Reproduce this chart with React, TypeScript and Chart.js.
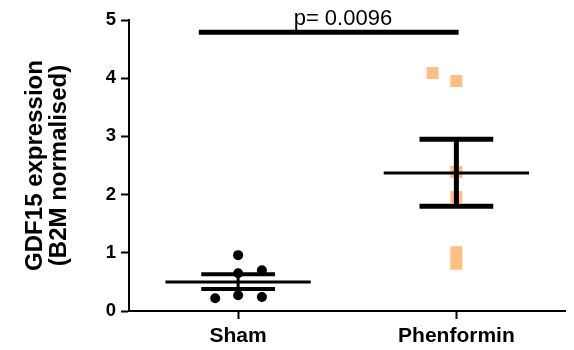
import React, { useEffect, useRef } from 'react';
import { Chart, registerables } from 'chart.js';

Chart.register(...registerables);

// ---- data ----
const categories = ['Sham', 'Phenformin'];
const shamX = [-0.105, 0, 0.109, 0, 0.109, 0];
const shamY = [0.22, 0.27, 0.24, 0.65, 0.7, 0.96];
const phenX = [0.891, 1, 1, 1, 1, 1];
const phenY = [4.09, 3.95, 2.39, 1.96, 1.01, 0.81];
const groupMean = [0.5, 2.37];
const groupSemLow = [0.38, 1.8];
const groupSemHigh = [0.63, 2.95];
const yTicks = [0, 1, 2, 3, 4, 5];
const sigSpan = [-0.18, 1.01];
const sigY = 4.79;
const pLabel = 'p= 0.0096';
const pLabelX = 0.48;

// ---- styles ----
const FONT = '"Liberation Sans", Arial, Helvetica, sans-serif';
const meanHalf = 0.333;
const capHalf = 0.169;
const meanWidth = [3, 3];
const capWidth = [4, 5];
const stemWidth = [3, 5];

function seg(x0: number, y0: number, x1: number, y1: number, w: number) {
  return {
    type: 'scatter' as const,
    data: [
      { x: x0, y: y0 },
      { x: x1, y: y1 },
    ],
    showLine: true,
    borderColor: '#000',
    borderWidth: w,
    borderCapStyle: 'butt' as const,
    pointRadius: 0,
    pointHoverRadius: 0,
    order: 0,
  };
}

const pTextPlugin = {
  id: 'pText',
  afterDatasetsDraw(chart: any) {
    const { ctx, scales } = chart;
    const xs = scales.x;
    const ys = scales.y;
    ctx.save();
    ctx.font = `22px ${FONT}`;
    ctx.fillStyle = '#000';
    ctx.textAlign = 'center';
    ctx.textBaseline = 'alphabetic';
    ctx.fillText(pLabel, xs.getPixelForValue(pLabelX), ys.getPixelForValue(sigY) - 7);
    ctx.restore();
  },
};

export default function App() {
  const ref = useRef<HTMLCanvasElement | null>(null);

  useEffect(() => {
    if (!ref.current) return;
    const datasets: any[] = [];
    for (let g = 0; g < 2; g++) {
      datasets.push(seg(g - meanHalf, groupMean[g], g + meanHalf, groupMean[g], meanWidth[g]));
      datasets.push(seg(g - capHalf, groupSemHigh[g], g + capHalf, groupSemHigh[g], capWidth[g]));
      datasets.push(seg(g - capHalf, groupSemLow[g], g + capHalf, groupSemLow[g], capWidth[g]));
      datasets.push(seg(g, groupSemLow[g], g, groupSemHigh[g], stemWidth[g]));
    }
    datasets.push(seg(sigSpan[0], sigY, sigSpan[1], sigY, 5));
    datasets.push({
      type: 'scatter',
      data: shamX.map((x, i) => ({ x, y: shamY[i] })),
      pointStyle: 'circle',
      pointRadius: 5,
      backgroundColor: '#000',
      borderWidth: 0,
      order: 1,
    });
    datasets.push({
      type: 'scatter',
      data: phenX.map((x, i) => ({ x, y: phenY[i] })),
      pointStyle: 'rect',
      pointRadius: 8.5,
      backgroundColor: '#FFBF80',
      borderWidth: 0,
      order: 2,
    });

    const chart = new Chart(ref.current, {
      type: 'scatter',
      data: { datasets },
      plugins: [pTextPlugin],
      options: {
        animation: false,
        responsive: false,
        devicePixelRatio: 1,
        layout: { padding: { top: 20, right: 6, left: 0, bottom: 0 } },
        plugins: { legend: { display: false }, tooltip: { enabled: false } },
        events: [],
        scales: {
          x: {
            type: 'linear',
            min: -0.5,
            max: 1.5,
            afterBuildTicks: (s: any) => {
              s.ticks = categories.map((_, i) => ({ value: i }));
            },
            afterFit: (s: any) => {
              s.height = 39;
            },
            ticks: {
              callback: (v: any) => categories[Math.round(Number(v))] ?? '',
              color: '#000',
              font: { family: FONT, size: 21, weight: 'bold' },
              padding: 5,
              autoSkip: false,
              maxRotation: 0,
            },
            grid: {
              drawOnChartArea: false,
              drawTicks: true,
              tickLength: 8,
              tickColor: '#000',
              tickWidth: 2,
            },
            border: { display: true, color: '#000', width: 2 },
          },
          y: {
            type: 'linear',
            min: 0,
            max: 5,
            afterBuildTicks: (s: any) => {
              s.ticks = yTicks.map((v) => ({ value: v }));
            },
            afterFit: (s: any) => {
              s.width = 129;
            },
            ticks: {
              color: '#000',
              font: { family: FONT, size: 18.5, weight: 'bold' },
              padding: 5,
            },
            grid: {
              drawOnChartArea: false,
              drawTicks: true,
              tickLength: 8,
              tickColor: '#000',
              tickWidth: 2,
            },
            border: { display: true, color: '#000', width: 2 },
            title: {
              display: true,
              text: ['GDF15 expression', '(B2M normalised)'],
              color: '#000',
              font: { family: FONT, size: 24, weight: 'bold', lineHeight: 1.0 },
              padding: { top: 23, bottom: 0 },
            },
          },
        },
      },
    });
    return () => chart.destroy();
  }, []);

  return (
    <div style={{ position: 'fixed', left: 0, top: 0, width: 574, height: 350, background: '#fff' }}>
      <canvas ref={ref} width={574} height={350} style={{ display: 'block' }} />
    </div>
  );
}
